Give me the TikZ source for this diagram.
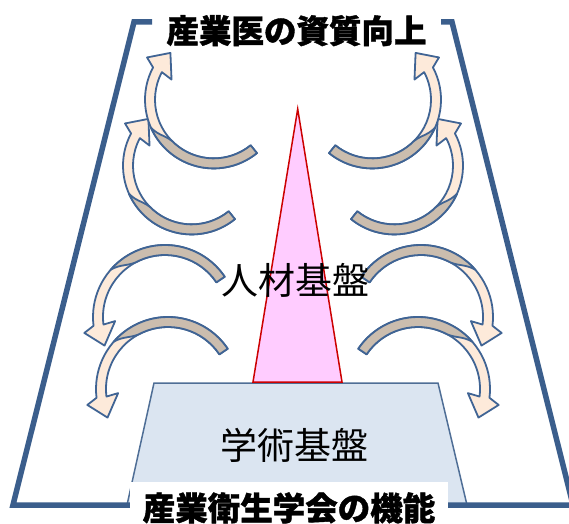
\documentclass[tikz,border=0pt]{standalone}
\usepackage{fontspec}
\newfontfamily\jp{Noto Sans CJK JP}
\newfontfamily\jptitle[BoldFeatures={FakeBold=1.2}]{Noto Sans CJK JP}
\definecolor{framecol}{RGB}{59,94,140}
\definecolor{trapfill}{RGB}{219,229,241}
\definecolor{trapedge}{RGB}{79,110,150}
\definecolor{pinkfill}{RGB}{255,204,255}
\definecolor{rededge}{RGB}{204,0,0}
\definecolor{ribpeach}{RGB}{253,234,218}
\definecolor{ribtan}{RGB}{203,189,174}
\definecolor{ribedge}{RGB}{64,100,148}
\tikzset{
  arrowline/.style={draw=ribedge, line width=1.8pt, line join=round},
  framestyle/.style={draw=framecol, line width=5.5pt, line join=miter},
  titletext/.style={inner sep=0pt, anchor=base, font=\jptitle\bfseries\fontsize{32.5}{32.5}\selectfont},
  bodytext/.style={inner sep=0pt, anchor=base, font=\jp\fontsize{37}{37}\selectfont}
}
\newcommand\ribbon[5]{%
  \begin{scope}[shift={#1}, rotate=#3, yscale=#4]
    \pgfmathsetmacro\ribR{#2}
    \pgfmathsetmacro\ribRi{#2-10}
    \pgfmathsetmacro\ribRc{#2-3}
    \pgfmathsetmacro\ribT{-#5}
    \pgfmathsetmacro\ribA{-#5+105}
    \pgfmathsetmacro\ribAc{-#5+95}
    \pgfmathsetmacro\ribB{-#5+80}
    \pgfmathsetmacro\ribBc{-#5+92}
    \pgfmathsetmacro\ribBo{#2+10}
    \pgfmathsetmacro\ribBi{#2-22}
    \pgfmathsetmacro\ribTip{#2-8.5}
    \filldraw[arrowline, fill=ribpeach] (\ribT:\ribR) arc[start angle=\ribT, end angle=0, radius=\ribR]
      -- (\ribBo,6) -- (\ribTip,21) -- (\ribBi,-2) -- (\ribRi,0)
      arc[start angle=0, end angle=\ribT, radius=\ribRi] -- cycle;
    \filldraw[arrowline, fill=ribtan] (\ribT:\ribR) arc[start angle=\ribT, end angle=\ribA, radius=\ribR]
      .. controls (\ribAc:\ribRc) and (\ribBc:\ribRi) .. (\ribB:\ribRi)
      arc[start angle=\ribB, end angle=\ribT, radius=\ribRi] -- cycle;
  \end{scope}}
\newcommand\leftarrows{%
  \ribbon{(191.7,357.3)}{68.7}{152}{-1}{157}
  \ribbon{(213.7,423.3)}{68.7}{152}{-1}{157}
  \ribbon{(168,134)}{72}{187}{1}{153}
  \ribbon{(165,206)}{72}{187}{1}{153}}
\begin{document}
\begin{tikzpicture}[x=1pt, y=1pt]
  \useasboundingbox (0,0) rectangle (569,523);
  \clip (0,0) rectangle (569,523);
  % inner trapezoid
  \filldraw[fill=trapfill, draw=trapedge, line width=1.5pt, line join=miter]
    (154,140) -- (438,140) -- (467,18) -- (127,18) -- cycle;
  % triangle
  \filldraw[fill=pinkfill, draw=rededge, line width=1.5pt, line join=miter]
    (297.7,414) -- (342,141) -- (253,141) -- cycle;
  % outer frame
  \draw[framestyle] (130,18) -- (13,18) -- (134,501) -- (152,501);
  \draw[framestyle] (441,501) -- (452,501) -- (573,18) -- (448,18);
  % arrows
  \leftarrows
  \begin{scope}[shift={(586,0)}, xscale=-1]
    \leftarrows
  \end{scope}
  % bottom label box
  \fill[white] (130,0) rectangle (448,41);
  % texts
  \node[bodytext] (jinzai) at (295.5,228.5) {人材基盤};
  \node[bodytext] (gakujutsu) at (294,63.5) {学術基盤};
  \node[titletext] (toptitle) at (296.5,480) {産業医の資質向上};
  \node[titletext] (bottitle) at (289,2.7) {産業衛生学会の機能};
\end{tikzpicture}
\end{document}
